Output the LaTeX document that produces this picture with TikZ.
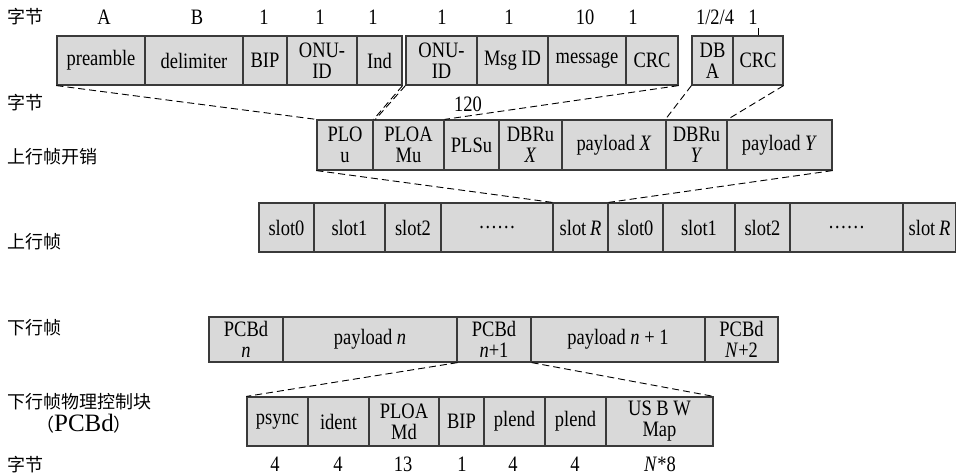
\documentclass[tikz,border=0pt]{standalone}
\usepackage{fontspec}
\setmainfont[FakeStretch=0.84]{Liberation Serif}
\newfontfamily\wideserif{Liberation Serif}
\newfontfamily\cjk{Noto Sans CJK SC}
\definecolor{cellfill}{HTML}{D9D9D9}
\definecolor{cellline}{HTML}{3A3A3A}
\newcommand\mkcell[6]{%
  \pgfmathsetmacro\cw{#3-#2}\pgfmathsetmacro\ch{#5-#4}%
  \pgfmathsetmacro\cx{(#2+#3)/2}\pgfmathsetmacro\cy{(#4+#5)/2}%
  \node[cellbox, minimum width=\cw pt, minimum height=\ch pt] (#1) at (\cx pt,-\cy pt) {#6};}
\begin{document}
\begin{tikzpicture}[
  cellbox/.style={draw=cellline, fill=cellfill, line width=1.2pt, inner sep=0pt, align=center,
    font=\fontsize{22}{21}\selectfont},
  lab/.style={inner sep=0pt, font=\fontsize{22}{21}\selectfont},
  zh/.style={inner sep=0pt, anchor=west, font=\fontsize{18}{20}\selectfont\cjk},
  map/.style={dash pattern=on 7pt off 4pt, line width=0.9pt, draw=black},
]
\useasboundingbox (0,0) rectangle (956pt,-476pt);

% row 1
\mkcell{pre}{57}{145}{36}{85}{preamble}
\mkcell{del}{145}{243}{36}{85}{delimiter}
\mkcell{bip}{243}{287}{36}{85}{BIP}
\mkcell{onua}{287}{357}{36}{85}{ONU-\\ID}
\mkcell{ind}{357}{402}{36}{85}{Ind}
\mkcell{onub}{406}{477}{36}{85}{ONU-\\ID}
\mkcell{msg}{477}{548}{36}{85}{Msg ID}
\mkcell{mes}{548}{626}{36}{85}{message}
\mkcell{crc}{626}{678}{36}{85}{CRC}
\mkcell{dba}{692}{733}{36}{85}{DB\\A}
\mkcell{crcb}{733}{783}{36}{85}{CRC}

% row 2
\mkcell{plou}{317}{373}{120}{170}{PLO\\u}
\mkcell{ploamu}{373}{444}{120}{170}{PLOA\\Mu}
\mkcell{plsu}{444}{499}{120}{170}{PLSu}
\mkcell{dbrux}{499}{562}{120}{170}{DBRu\\\textit{X}}
\mkcell{payx}{562}{666}{120}{170}{payload \textit{X}}
\mkcell{dbruy}{666}{727}{120}{170}{DBRu\\\textit{Y}}
\mkcell{payy}{727}{832}{120}{170}{payload \textit{Y}}

% row 3
\mkcell{sa}{259}{314}{203}{252}{slot0}
\mkcell{sb}{314}{385}{203}{252}{slot1}
\mkcell{sc}{385}{441}{203}{252}{slot2}
\mkcell{sd}{441}{553}{203}{252}{……}
\mkcell{sr}{553}{608}{203}{252}{slot\,\textit{R}}
\mkcell{ta}{608}{663}{203}{252}{slot0}
\mkcell{tb}{663}{735}{203}{252}{slot1}
\mkcell{tc}{735}{790}{203}{252}{slot2}
\mkcell{td}{790}{903}{203}{252}{……}
\mkcell{tr}{903}{956}{203}{252}{slot\,\textit{R}}

% row 4
\mkcell{pn}{209}{283}{317}{362}{PCBd\\\textit{n}}
\mkcell{payn}{283}{457}{317}{362}{payload \textit{n}}
\mkcell{pna}{457}{531}{317}{362}{PCBd\\\textit{n}+1}
\mkcell{payna}{531}{705}{317}{362}{payload \textit{n} + 1}
\mkcell{pnb}{705}{778}{317}{362}{PCBd\\\textit{N}+2}

% row 5
\mkcell{psync}{247}{308}{397}{446}{psync}
\mkcell{ident}{308}{369}{397}{446}{ident}
\mkcell{ploamd}{369}{439}{397}{446}{PLOA\\Md}
\mkcell{bipb}{439}{484}{397}{446}{BIP}
\mkcell{plenda}{484}{545}{397}{446}{plend}
\mkcell{plendb}{545}{606}{397}{446}{plend}
\mkcell{usbw}{606}{713}{397}{446}{US B W\\Map}

% mapping lines
\draw[map] (pre.south west) -- (plou.north west);
\draw[map] (ind.south east) -- (plou.north east);
\draw[map] (onub.south west) -- ([xshift=3pt]ploamu.north west);
\draw[map] (crc.south east) -- (ploamu.north east);
\draw[map] (dba.south west) -- (dbruy.north west);
\draw[map] (crcb.south east) -- (dbruy.north east);
\draw[map] (plou.south west) -- (sr.north west);
\draw[map] (payy.south east) -- (sr.north east);
\draw[map] (payn.south east) -- (psync.north west);
\draw[map] (pna.south east) -- (usbw.north east);
\coordinate (tick) at ([yshift=7pt]crcb.north);
\draw[line width=0.9pt] (crcb.north) -- (tick);

% byte labels top
\node[lab] (la) at (104pt,-17pt) {A};
\node[lab] (lb) at (197pt,-17pt) {B};
\node[lab] (lc) at (264pt,-17pt) {1};
\node[lab] (ld) at (320pt,-17pt) {1};
\node[lab] (le) at (373pt,-17pt) {1};
\node[lab] (lf) at (442pt,-17pt) {1};
\node[lab] (lg) at (509pt,-17pt) {1};
\node[lab] (lh) at (585pt,-17pt) {10};
\node[lab] (li) at (633pt,-17pt) {1};
\node[lab] (lj) at (715pt,-17pt) {1/2/4};
\node[lab] (lk) at (753pt,-17pt) {1};
\node[lab] (l120) at (468pt,-104pt) {120};

% byte labels bottom
\node[lab, anchor=base] (ba) at (275pt,-471pt) {4};
\node[lab, anchor=base] (bb) at (338pt,-471pt) {4};
\node[lab, anchor=base] (bc) at (403pt,-471pt) {13};
\node[lab, anchor=base] (bd) at (462pt,-471pt) {1};
\node[lab, anchor=base] (be) at (513pt,-471pt) {4};
\node[lab, anchor=base] (bf) at (575pt,-471pt) {4};
\node[lab, anchor=base] (bg) at (660pt,-471pt) {\textit{N}*8};

% left labels
\node[zh] (z1) at (7pt,-17pt) {字节};
\node[zh] (z2) at (7pt,-103pt) {字节};
\node[zh] (z3) at (7pt,-157pt) {上行帧开销};
\node[zh] (z4) at (7pt,-242pt) {上行帧};
\node[zh] (z5) at (7pt,-328pt) {下行帧};
\node[zh] (z6) at (7pt,-402pt) {下行帧物理控制块};
\node[zh, anchor=center] (z7) at (84pt,-424pt) {（{\wideserif\fontsize{25}{25}\selectfont PCBd}）};
\node[zh] (z8) at (7pt,-465pt) {字节};
\end{tikzpicture}
\end{document}
